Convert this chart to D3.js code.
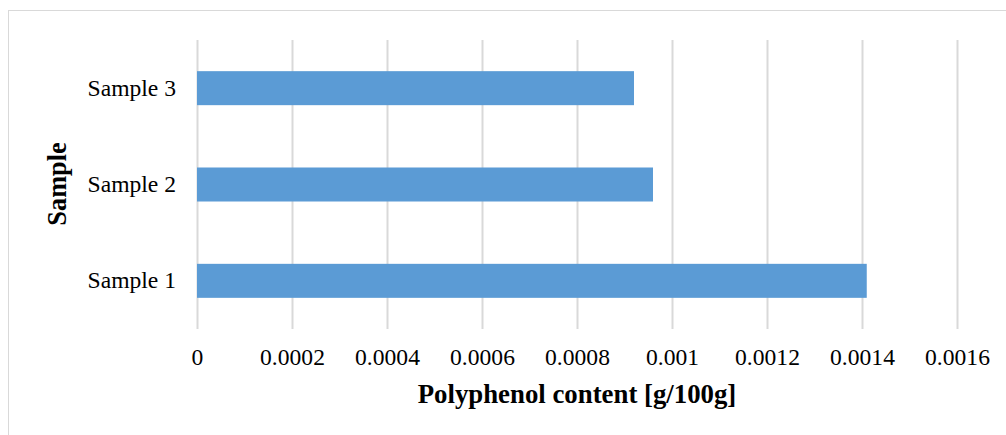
<!DOCTYPE html>
<html>
<head>
<meta charset="utf-8">
<script src="https://cdn.jsdelivr.net/npm/d3@7"></script>
<style>
  html, body { margin: 0; padding: 0; background: #fff; }
  svg { display: block; }
</style>
</head>
<body>
<div id="chart"></div>
<script>
const categories = ["Sample 1", "Sample 2", "Sample 3"];
const values = [0.00141, 0.00096, 0.00092];
const tickValues = [0, 0.0002, 0.0004, 0.0006, 0.0008, 0.001, 0.0012, 0.0014, 0.0016];
const tickLabels = ["0", "0.0002", "0.0004", "0.0006", "0.0008", "0.001", "0.0012", "0.0014", "0.0016"];
const xTitle = "Polyphenol content [g/100g]";
const yTitle = "Sample";

const W = 1006, H = 435;
const svg = d3.select("#chart").append("svg").attr("width", W).attr("height", H);

// outer chart border
svg.append("rect").attr("x", 8.5).attr("y", 10.5).attr("width", 1010).attr("height", 440)
  .attr("fill", "#fff").attr("stroke", "#d9d9d9").attr("stroke-width", 1);

const x = d3.scaleLinear().domain([0, 0.0016]).range([197, 957]);
const y = d3.scaleBand().domain(categories.slice().reverse()).range([40, 329])
  .paddingInner(0.647).paddingOuter(0.3235);

// gridlines
svg.append("g").selectAll("line").data(tickValues).join("line")
  .attr("x1", d => Math.round(x(d)) + 0.5).attr("x2", d => Math.round(x(d)) + 0.5)
  .attr("y1", 40).attr("y2", 329)
  .attr("stroke", "#d9d9d9").attr("stroke-width", 2);

// bars
svg.append("g").selectAll("rect").data(categories).join("rect")
  .attr("x", x(0))
  .attr("y", (d) => y(d))
  .attr("width", (d, i) => x(values[i]) - x(0))
  .attr("height", y.bandwidth())
  .attr("fill", "#5b9bd5");

// x axis labels
const xAxis = d3.axisBottom(x).tickValues(tickValues)
  .tickFormat((d, i) => tickLabels[i]).tickSize(0).tickPadding(0);
const gx = svg.append("g").attr("transform", "translate(0,348)").call(xAxis);
gx.select(".domain").remove();
gx.selectAll("text").attr("font-family", "'Liberation Serif', 'Times New Roman', serif")
  .attr("font-size", 23.6).attr("fill", "#000").attr("dy", "0.71em");

// y axis labels
const yAxis = d3.axisLeft(y).tickSize(0).tickPadding(21);
const gy = svg.append("g").attr("transform", `translate(${x(0)},0)`).call(yAxis);
gy.select(".domain").remove();
gy.selectAll("text").attr("font-family", "'Liberation Serif', 'Times New Roman', serif")
  .attr("font-size", 23.6).attr("fill", "#000");

// axis titles
svg.append("text").attr("x", 577).attr("y", 403).attr("text-anchor", "middle")
  .attr("font-family", "'Liberation Serif', 'Times New Roman', serif")
  .attr("font-size", 26.8).attr("font-weight", "bold").attr("fill", "#000").text(xTitle);

svg.append("text").attr("transform", "translate(66,184) rotate(-90)").attr("text-anchor", "middle")
  .attr("font-family", "'Liberation Serif', 'Times New Roman', serif")
  .attr("font-size", 26.3).attr("font-weight", "bold").attr("fill", "#000").text(yTitle);
</script>
</body>
</html>
